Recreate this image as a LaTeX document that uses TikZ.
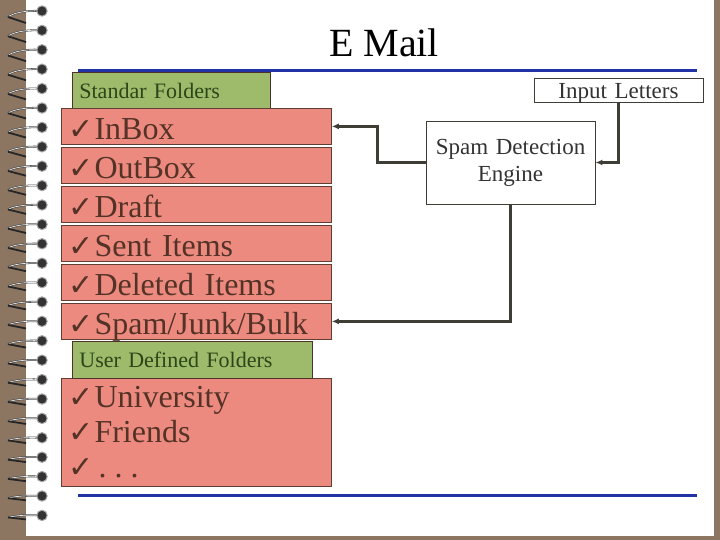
\documentclass[tikz,border=0pt]{standalone}
\usepackage{fontspec}
\setmainfont{Liberation Serif}
\newfontfamily\checkfont{DejaVu Sans}
\usetikzlibrary{arrows.meta}
\definecolor{pagebrown}{RGB}{140,118,98}
\definecolor{ruleblue}{RGB}{32,50,165}
\definecolor{folderpink}{RGB}{236,138,128}
\definecolor{folderedge}{RGB}{95,62,52}
\definecolor{itemtext}{RGB}{84,50,38}
\definecolor{headgreen}{RGB}{157,187,106}
\definecolor{headtext}{RGB}{45,70,25}
\definecolor{linkgray}{RGB}{62,62,54}
\newcommand{\chk}{{\checkfont\fontsize{30}{30}\selectfont ✓}\hspace{1pt}}

\begin{document}
\begin{tikzpicture}[x=1pt,y=-1pt,
    folder/.style={draw=folderedge,fill=folderpink,text=itemtext,line width=0.8pt,anchor=north west,
      text width=256pt,inner xsep=7pt,inner ysep=0pt,align=left,font=\fontsize{32}{35}\selectfont},
    item/.style={folder,minimum height=36pt,text height=26pt,text depth=0pt},
    head/.style={draw=folderedge!80!black,fill=headgreen,text=headtext,line width=0.8pt,anchor=north west,
      inner xsep=7pt,inner ysep=0pt,text height=16pt,text depth=0pt,align=left,font=\fontsize{22}{24}\selectfont},
    box/.style={draw=linkgray,fill=white,text=black!80,line width=0.8pt,inner sep=0pt,text width=169pt,
      align=center,font=\fontsize{23}{27}\selectfont},
    link/.style={draw=linkgray,line width=2.4pt,-{Latex[length=7pt,width=6pt]}},
    rule/.style={ruleblue,line width=3pt}]
    \useasboundingbox (0,0) rectangle (720,540);
    \fill[pagebrown] (0,0) rectangle (720,540);
    \fill[white] (26,0) rectangle (714,536);
    \foreach \i in {0,...,26} {
      \pgfmathsetmacro\yy{11+19.4*\i}
      \pgfmathsetmacro\hh{6-4*\i/26}
      \draw[black!75,line width=1.8pt] (40,\yy) .. controls (24,\yy-1) and (11,\yy+0.5*\hh) .. (8,\yy+\hh);
      \draw[black!8,line width=0.7pt] (40,\yy) .. controls (24,\yy-1) and (11,\yy+0.5*\hh) .. (8,\yy+\hh);
      \draw[black!85,line width=1.8pt] (8,\yy+\hh) -- (26,\yy+2*\hh);
      \filldraw[black!80,draw=black!35,line width=1pt] (42,\yy) circle (5.2);
    }
    \draw[rule] (78,71) -- (697,71);
    \draw[rule] (78,495) -- (697,495);
    \node[anchor=base,font=\fontsize{40}{44}\selectfont] (title) at (384,57) {E Mail};
    \node[head,text width=184pt,minimum height=36pt] (stdhead) at (72,72) {Standar Folders};
    \foreach \name/\label [count=\i from 0] in {inbox/InBox,outbox/OutBox,draft/Draft,sent/Sent Items,
        deleted/Deleted Items,spam/{Spam/Junk/Bulk}} {
      \node[item] (\name) at (61,108+39*\i) {\chk\label};
    }
    \node[folder,minimum height=108pt] (userlist) at (61,378)
      {\chk University\\\chk Friends\\\chk\hspace{4pt}.\hspace{8pt}.\hspace{8pt}.};
    \node[head,text width=226pt,minimum height=37pt] (userhead) at (72,341) {User Defined Folders};
    \node[box,minimum height=24pt,text height=18pt,text depth=0pt] (input) at (618.5,90) {Input Letters};
    \node[box,minimum height=83pt] (engine) at (510.5,162.5) {Spam Detection\\Engine};
    \draw[link] (engine.west) -- ++(-48,0) |- (inbox.east);
    \draw[link] (input.south) |- (engine.east);
    \draw[link] (engine.south) |- (spam.east);
  \end{tikzpicture}
\end{document}
